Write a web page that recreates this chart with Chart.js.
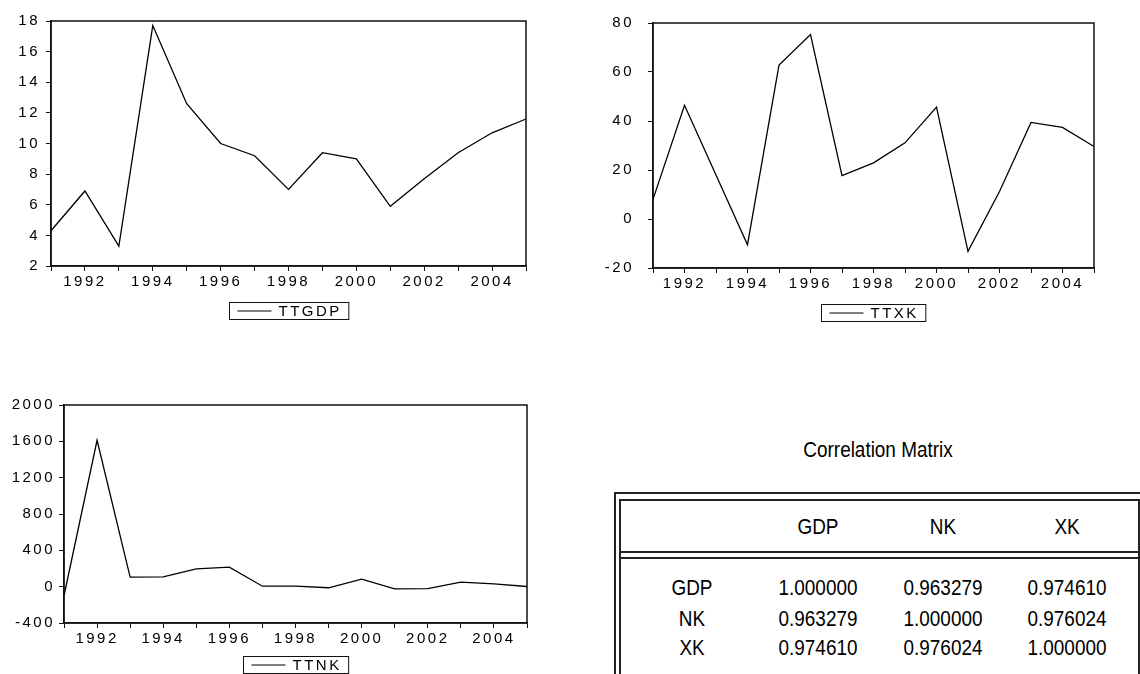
<!DOCTYPE html>
<html>
<head>
<meta charset="utf-8">
<script src="https://cdn.jsdelivr.net/npm/chart.js@4.4.1/dist/chart.umd.min.js"></script>
<style>
  html, body { margin: 0; padding: 0; background: #fff; }
  body { width: 1140px; height: 674px; position: relative; overflow: hidden;
         font-family: "Liberation Sans", Arial, sans-serif; }
  canvas { position: absolute; }
  .txt { position: absolute; white-space: nowrap; font-size: 22px; line-height: 22px; color: #000;
         transform: translate(-50%, -50%) scaleX(0.86); }
  .title { font-size: 22px; line-height: 22px; transform: translate(-50%, -50%) scaleX(0.86); }
  .rule { position: absolute; background: #222; }
</style>
</head>
<body>
<canvas id="cGdp" width="540" height="340" style="left:0;top:0"></canvas>
<canvas id="cXk" width="580" height="340" style="left:560px;top:0"></canvas>
<canvas id="cNk" width="540" height="294" style="left:0;top:380px"></canvas>

<div id="matrix"></div>

<script>
// Annual series, 1991-2005
const years = ['1991','1992','1993','1994','1995','1996','1997','1998','1999','2000','2001','2002','2003','2004','2005'];
const ttgdp = [4.3, 6.9, 3.3, 17.7, 12.6, 10.0, 9.2, 7.0, 9.4, 9.0, 5.9, 7.7, 9.4, 10.7, 11.6];
const ttxk  = [8, 46.4, 18, -10.5, 62.8, 75.3, 17.7, 22.9, 31.1, 45.7, -13.2, 11.2, 39.4, 37.4, 29.6];
const ttnk  = [-100, 1612, 105, 108, 195, 215, 5, 5, -12, 82, -25, -22, 50, 30, 2];

// Correlation matrix
const corrNames = ['GDP', 'NK', 'XK'];
const corrRows = [
  ['1.000000', '0.963279', '0.974610'],
  ['0.963279', '1.000000', '0.976024'],
  ['0.974610', '0.976024', '1.000000']
];

const INK = '#000';
const SPACING = '2.5px';
const FONT_FAMILY = '"Liberation Sans", Arial, sans-serif';

// Wide, spaced tick lettering
const spacedText = {
  id: 'spacedText',
  beforeUpdate(chart) { chart.ctx.letterSpacing = SPACING; },
  beforeDraw(chart) { chart.ctx.letterSpacing = SPACING; }
};

// Closed frame around the plot area
const frame = {
  id: 'frame',
  afterDatasetsDraw(chart) {
    const a = chart.chartArea, ctx = chart.ctx;
    ctx.save();
    ctx.strokeStyle = '#111';
    ctx.lineWidth = 1.5;
    ctx.strokeRect(a.left, a.top, a.right - a.left, a.bottom - a.top);
    ctx.restore();
  }
};

// Single-entry legend drawn inside a bordered box under the plot
const boxedLegend = {
  id: 'boxedLegend',
  afterDraw(chart, args, opts) {
    const ctx = chart.ctx, ds = chart.data.datasets[0];
    ctx.save();
    ctx.font = '15px ' + FONT_FAMILY;
    ctx.letterSpacing = SPACING;
    const tw = ctx.measureText(ds.label).width;
    const padL = 8, lineLen = 34, gap = 7, padR = 7;
    const w = padL + lineLen + gap + tw + padR;
    const cx = (chart.chartArea.left + chart.chartArea.right) / 2;
    const x0 = Math.round(cx - w / 2) + 0.5, y0 = opts.top + 0.5, h = opts.height;
    ctx.strokeStyle = '#111';
    ctx.lineWidth = 1;
    ctx.strokeRect(x0, y0, w, h);
    ctx.beginPath();
    ctx.moveTo(x0 + padL, y0 + h / 2);
    ctx.lineTo(x0 + padL + lineLen, y0 + h / 2);
    ctx.strokeStyle = ds.borderColor;
    ctx.lineWidth = 1;
    ctx.stroke();
    ctx.fillStyle = INK;
    ctx.textAlign = 'left';
    ctx.textBaseline = 'middle';
    ctx.fillText(ds.label, x0 + padL + lineLen + gap, y0 + h / 2 + 1);
    ctx.restore();
  }
};

function lineChart(id, label, values, yMin, yMax, yStep, area, yPad, legendTop) {
  const canvas = document.getElementById(id);
  const W = canvas.width, H = canvas.height;
  const tickFont = { family: FONT_FAMILY, size: 15 };
  const axisGrid = { display: true, drawOnChartArea: false, drawTicks: true, tickLength: 5, color: '#111', lineWidth: 1 };
  return new Chart(canvas, {
    type: 'line',
    data: {
      labels: years,
      datasets: [{ label, data: values, borderColor: '#000', borderWidth: 1.3,
                   pointRadius: 0, tension: 0, fill: false }]
    },
    options: {
      responsive: false,
      animation: false,
      events: [],
      layout: { padding: { left: 0, right: W - area.right, top: area.top, bottom: 0 } },
      plugins: {
        legend: { display: false },
        tooltip: { enabled: false },
        boxedLegend: { top: legendTop, height: 17 }
      },
      scales: {
        x: {
          type: 'category',
          offset: false,
          border: { display: true, color: '#111', width: 1.5 },
          grid: axisGrid,
          ticks: {
            autoSkip: false, maxRotation: 0, minRotation: 0, padding: 2,
            color: INK, font: tickFont,
            callback(v) { const y = this.getLabelForValue(v); return (+y) % 2 === 0 ? y : ''; }
          },
          afterFit(s) { s.height = H - area.bottom; }
        },
        y: {
          min: yMin, max: yMax,
          border: { display: true, color: '#111', width: 1.5 },
          grid: axisGrid,
          ticks: { stepSize: yStep, padding: yPad, color: INK, font: tickFont,
                   callback: v => String(v) },
          afterFit(s) { s.width = area.left; }
        }
      }
    },
    plugins: [spacedText, frame, boxedLegend]
  });
}

lineChart('cGdp', 'TTGDP', ttgdp, 2, 18, 2, { left: 51, right: 526, top: 21, bottom: 266 }, 6, 302);
lineChart('cXk', 'TTXK', ttxk, -20, 80, 20, { left: 93, right: 534, top: 19, bottom: 268 }, 14, 304);
lineChart('cNk', 'TTNK', ttnk, -400, 2000, 400, { left: 64, right: 527, top: 25, bottom: 243 }, 4, 276);

// Correlation table
const m = document.getElementById('matrix');
function rule(l, t, w, h) {
  const d = document.createElement('div');
  d.className = 'rule';
  d.style.cssText = `left:${l}px;top:${t}px;width:${w}px;height:${h}px`;
  m.appendChild(d);
}
function text(s, x, y, cls) {
  const d = document.createElement('div');
  d.className = 'txt' + (cls ? ' ' + cls : '');
  d.style.left = x + 'px';
  d.style.top = y + 'px';
  d.textContent = s;
  m.appendChild(d);
}
text('Correlation Matrix', 878, 450, 'title');
rule(614, 492, 526, 2);   // outer top
rule(614, 492, 2, 182);   // outer left
rule(619, 499, 521, 2);   // inner top
rule(619, 499, 2, 175);   // inner left
rule(1138, 499, 2, 175);  // inner right
rule(619, 551, 521, 2);   // header rule
rule(619, 557, 521, 2);   // header rule (second)

const colX = [818, 943, 1067];
const rowY = [588, 619, 648];
corrNames.forEach((n, j) => text(n, colX[j], 527));
corrNames.forEach((n, i) => {
  text(n, 692, rowY[i]);
  corrRows[i].forEach((v, j) => text(v, colX[j], rowY[i]));
});
</script>
</body>
</html>
